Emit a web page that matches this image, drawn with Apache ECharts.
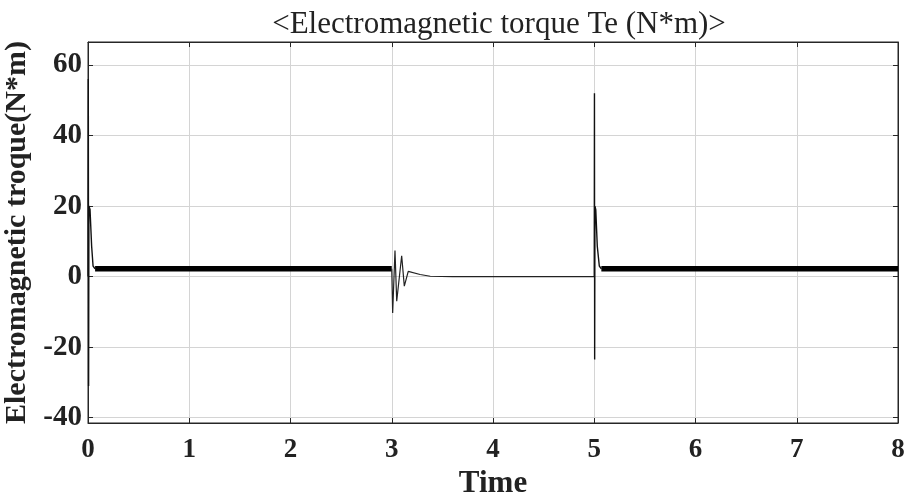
<!DOCTYPE html>
<html><head><meta charset="utf-8">
<script src="https://cdn.jsdelivr.net/npm/echarts@6/dist/echarts.min.js"></script>
<style>html,body{margin:0;padding:0;background:#fff}#c{width:907px;height:500px}</style>
</head><body><div id="c"></div>
<script>
const titleText = '<Electromagnetic torque Te (N*m)>';
const xName = 'Time';
const yName = 'Electromagnetic troque(N*m)';
const yTicks = [-40, -20, 0, 20, 40, 60];
const xTicks = [0, 1, 2, 3, 4, 5, 6, 7, 8];
// startup transient at t=0
const start0T = [0, 0.003, 0.006, 0.009, 0.02, 0.036, 0.05, 0.07];
const start0V = [0, 56, -31, 20, 19, 8.6, 3, 2.2];
// steady running band 1
const steady1T = [0.07, 3.0];
const steady1V = [2.2, 2.2];
// load removal oscillation at t=3 and zero segment
const dipT = [3.0, 3.009, 3.032, 3.049, 3.098, 3.124, 3.163, 3.28, 3.38, 3.6, 5.0];
const dipV = [2.2, -10.3, 7.4, -7, 5.9, -2.7, 1.5, 0.6, 0.1, 0, 0];
// restart transient at t=5
const start5T = [5.0, 5.002, 5.004, 5.007, 5.015, 5.03, 5.05, 5.07];
const start5V = [0, 52, -23.5, 20, 19, 8.6, 3, 2.2];
// steady running band 2
const steady2T = [5.07, 8.0];
const steady2V = [2.2, 2.2];

const zip = (a, b) => a.map((t, i) => [t, b[i]]);
const font = 'Liberation Serif, Times New Roman, serif';
const chart = echarts.init(document.getElementById('c'));
const axisLine = {show: true, onZero: false, lineStyle: {color: '#262626', width: 1}};
chart.setOption({
  animation: false,
  title: {text: titleText, left: 494, top: 4, textAlign: 'center',
    textStyle: {fontFamily: font, fontWeight: 'normal', fontSize: 31, color: '#222'}},
  grid: {left: 88, right: 9, top: 42, bottom: 77, show: true, borderColor: '#262626', borderWidth: 1,
    containLabel: false, outerBoundsMode: 'none'},
  xAxis: [{
    type: 'value', min: 0, max: 8, interval: 1,
    name: xName, nameLocation: 'middle', nameGap: 40,
    nameTextStyle: {fontFamily: font, fontWeight: 'bold', fontSize: 31, color: '#222'},
    axisLine: axisLine,
    axisTick: {inside: true, length: 5, lineStyle: {color: '#262626'}},
    axisLabel: {fontFamily: font, fontWeight: 'bold', fontSize: 27, color: '#222', margin: 14,
      customValues: xTicks},
    splitLine: {show: true, lineStyle: {color: '#d4d4d4', width: 1}}
  }, {
    type: 'value', min: 0, max: 8, interval: 1, position: 'top',
    axisLine: axisLine, axisLabel: {show: false},
    axisTick: {inside: true, length: 5, lineStyle: {color: '#262626'}},
    splitLine: {show: false}
  }],
  yAxis: [{
    type: 'value', min: -41.5, max: 66.5,
    name: yName, nameLocation: 'middle', nameGap: 50,
    nameTextStyle: {fontFamily: font, fontWeight: 'bold', fontSize: 30, color: '#222'},
    axisLine: axisLine,
    axisTick: {inside: true, length: 5, customValues: yTicks, lineStyle: {color: '#262626'}},
    axisLabel: {fontFamily: font, fontWeight: 'bold', fontSize: 29, color: '#222', margin: 6,
      customValues: yTicks},
    splitLine: {show: true, lineStyle: {color: '#d4d4d4', width: 1}}
  }, {
    type: 'value', min: -41.5, max: 66.5, position: 'right',
    axisLine: axisLine, axisLabel: {show: false},
    axisTick: {inside: true, length: 5, customValues: yTicks, lineStyle: {color: '#262626'}},
    splitLine: {show: false}
  }],
  series: [
    {type: 'line', data: zip(start0T, start0V), showSymbol: false, lineStyle: {color: '#111', width: 1.4}},
    {type: 'line', data: zip(steady1T, steady1V), showSymbol: false, lineStyle: {color: '#000', width: 5.5}},
    {type: 'line', data: zip(dipT, dipV), showSymbol: false, lineStyle: {color: '#222', width: 1.2}},
    {type: 'line', data: zip(start5T, start5V), showSymbol: false, lineStyle: {color: '#111', width: 1.4}},
    {type: 'line', data: zip(steady2T, steady2V), showSymbol: false, lineStyle: {color: '#000', width: 5.5}}
  ]
});
</script></body></html>
